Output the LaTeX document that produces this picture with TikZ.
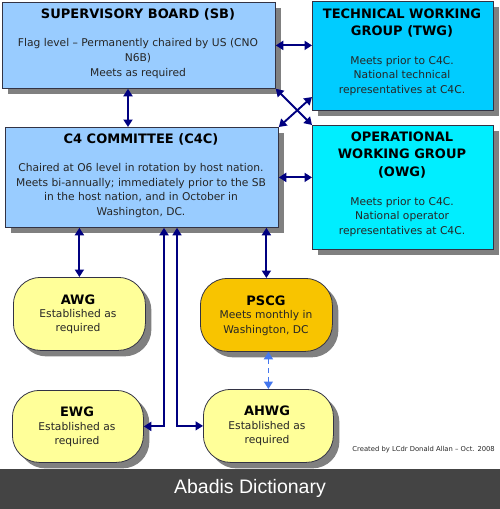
\documentclass[tikz,border=0pt]{standalone}
\usepackage{fontspec}
\setmainfont{DejaVu Sans}
\newfontfamily\barfont{Liberation Sans}
\usetikzlibrary{arrows.meta,shadows}
\definecolor{navy}{HTML}{000080}
\definecolor{lblue}{HTML}{99CCFF}
\definecolor{twgc}{HTML}{00CCFF}
\definecolor{owgc}{HTML}{00EEFF}
\definecolor{ylw}{HTML}{FFFF99}
\definecolor{orng}{HTML}{F8C400}
\definecolor{shd}{HTML}{808080}
\definecolor{bord}{HTML}{333344}
\definecolor{dashblue}{HTML}{4477EE}
\definecolor{barcol}{HTML}{444444}
\begin{document}
\begin{tikzpicture}[x=1pt,y=-1pt,
  boxstyle/.style={draw=bord, line width=0.8pt, anchor=north west, inner sep=0pt,
    drop shadow={shadow xshift=6pt, shadow yshift=-6pt, fill=shd, opacity=1}},
  sqbox/.style={boxstyle},
  rndbox/.style={boxstyle, rounded corners=27pt},
  ttl/.style={font=\fontsize{13}{17.5}\selectfont\bfseries, align=center, inner sep=0pt},
  bdy/.style={font=\fontsize{10.7}{14.8}\selectfont, align=center, inner sep=0pt, text=black!85},
  arr/.style={navy, line width=1.9pt, {Triangle[length=7.5pt,width=9pt]}-{Triangle[length=7.5pt,width=9pt]}},
  thinarr/.style={navy, line width=1.4pt, {Triangle[length=7.5pt,width=9pt]}-{Triangle[length=7.5pt,width=9pt]}},
  dasharr/.style={dashblue, line width=1.6pt, dash pattern=on 5pt off 4pt, {Triangle[length=7.5pt,width=9pt]}-{Triangle[length=7.5pt,width=9pt]}}
]
\useasboundingbox (0,0) rectangle (500,509);

% boxes
\node[sqbox, fill=lblue, minimum width=273pt, minimum height=86pt] (sb) at (2,2) {};
\node[sqbox, fill=twgc, minimum width=181pt, minimum height=109pt] (twg) at (312,1) {};
\node[sqbox, fill=owgc, minimum width=181pt, minimum height=124pt] (owg) at (312,125) {};
\node[sqbox, fill=lblue, minimum width=273pt, minimum height=100pt] (c4c) at (5,127) {};
\node[rndbox, fill=ylw, minimum width=132pt, minimum height=73pt] (awg) at (13,277) {};
\node[rndbox, fill=orng, minimum width=132pt, minimum height=73pt] (pscg) at (200,278) {};
\node[rndbox, fill=ylw, minimum width=131pt, minimum height=72pt] (ewg) at (12,390) {};
\node[rndbox, fill=ylw, minimum width=130pt, minimum height=73pt] (ahwg) at (203,389) {};

% texts
\node[ttl] (sbT) at (138,14) {SUPERVISORY BOARD (SB)};
\node[bdy] (sbB) at (138,58.5) {Flag level -- Permanently chaired by US (CNO\\N6B)\\Meets as required};
\node[ttl] (twgT) at (402,23) {TECHNICAL WORKING\\GROUP (TWG)};
\node[bdy] (twgB) at (402,76) {Meets prior to C4C.\\National technical\\representatives at C4C.};
\node[ttl] (owgT) at (402,155) {OPERATIONAL\\WORKING GROUP\\(OWG)};
\node[bdy] (owgB) at (402,217) {Meets prior to C4C.\\National operator\\representatives at C4C.};
\node[ttl] (c4cT) at (141,139) {C4 COMMITTEE (C4C)};
\node[bdy] (c4cB) at (141,190.5) {Chaired at O6 level in rotation by host nation.\\Meets bi-annually; immediately prior to the SB\\in the host nation, and in October in\\Washington, DC.};
\node[ttl] (awgT) at (78,300) {AWG};
\node[bdy] (awgB) at (78,321.5) {Established as\\required};
\node[ttl] (pscgT) at (266,301) {PSCG};
\node[bdy] (pscgB) at (266,323) {Meets monthly in\\Washington, DC};
\node[ttl] (ewgT) at (77,412) {EWG};
\node[bdy] (ewgB) at (77,434.5) {Established as\\required};
\node[ttl] (ahwgT) at (267,411) {AHWG};
\node[bdy] (ahwgB) at (267,433.5) {Established as\\required};
\node[font=\fontsize{6.8}{8}\selectfont, inner sep=0pt, anchor=east, text=black!85] (credit) at (495,450) {Created by LCdr Donald Allan -- Oct. 2008};

% connectors
\coordinate (xsb) at (128,0);
\coordinate (xe) at (164,0);
\coordinate (xa) at (177,0);
\coordinate (ytwg) at (0,97);
\draw[arr] (sb.east) -- (sb.east -| twg.west);
\draw[arr] (sb.south -| xsb) -- (c4c.north -| xsb);
\draw[arr] (sb.south east) -- (owg.north west);
\draw[arr] (c4c.north east) -- (twg.west |- ytwg);
\draw[arr] (c4c.east) -- (c4c.east -| owg.west);
\draw[arr] (c4c.south -| awg.north) -- (awg.north);
\draw[arr] (c4c.south -| pscg.north) -- (pscg.north);
\draw[arr] (ewg.east) -| (c4c.south -| xe);
\draw[thinarr] (ahwg.west) -| (c4c.south -| xa);
\draw[dasharr] (pscg.south -| ahwg.north) -- (ahwg.north);

% bottom bar
\fill[barcol] (0,469) rectangle (500,509);
\node[font=\barfont\fontsize{19.5}{22}\selectfont, text=white, inner sep=0pt] (bar) at (250,488.5) {Abadis Dictionary};
\end{tikzpicture}
\end{document}
